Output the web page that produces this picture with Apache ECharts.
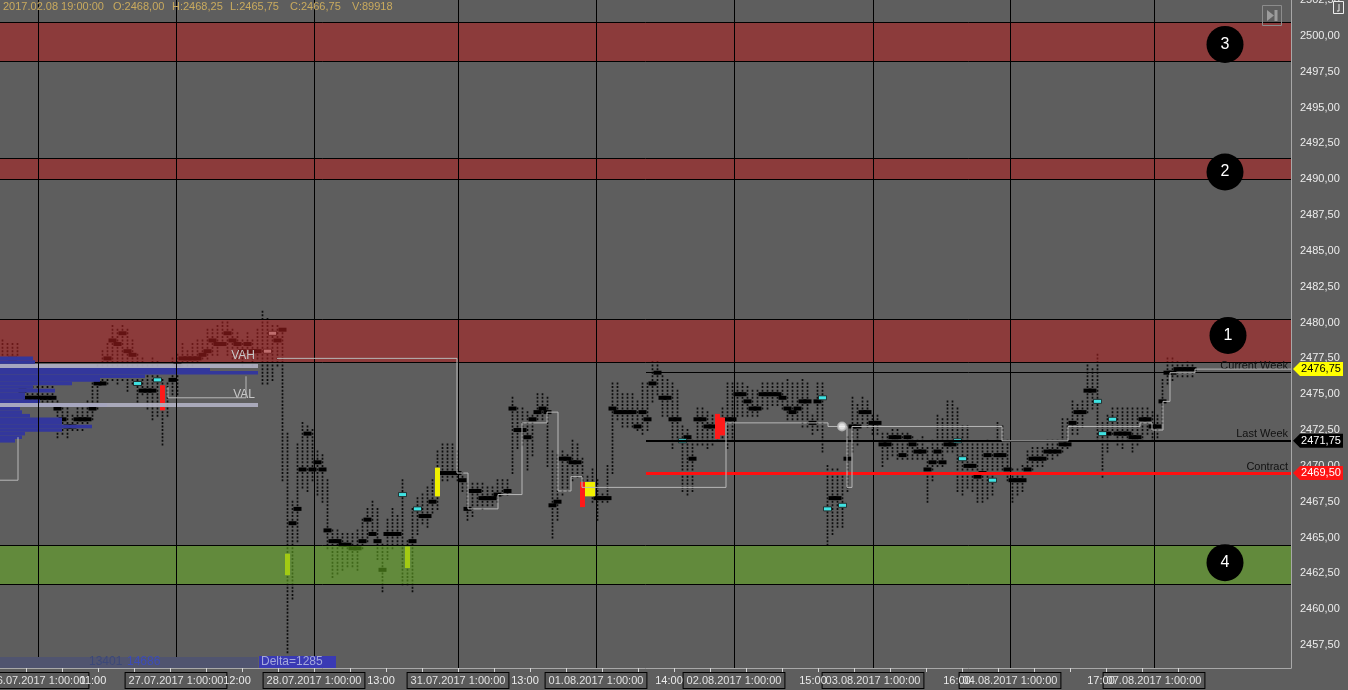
<!DOCTYPE html>
<html><head><meta charset="utf-8">
<script src="https://cdn.jsdelivr.net/npm/echarts@6/dist/echarts.min.js"></script>
<style>html,body{margin:0;padding:0;background:#5e5e5e;overflow:hidden}#c{width:1348px;height:690px}</style>
</head><body><div id="c"></div>
<script>
// ---------- data (prices, one column = one time slot) ----------
const barHigh = [
2478.75,2478.5,2478.5,2478.5,2476.25,2476,2476,2475.75,2476,2475.75,
2475.75,2474.5,2474.25,2474,2473.5,2474,2474.25,2474.5,2476,2477,
2478,2478.5,2479.75,2479.5,2479.75,2479.5,2478.75,2477.75,2477.5,2477,
2477.5,2477.25,2476,2475.75,2477.5,2477.75,2478.5,2478,2478.5,2478.75,
2478.75,2479.5,2479.5,2479.75,2480,2480,2479.5,2479.25,2478.75,2479.25,
2478.75,2479.5,2480.75,2480.25,2479.75,2479.75,2479.5,2472.25,2467.5,2471.5,
2473,2472.75,2472.5,2471,2470.75,2469,2465.5,2465.5,2465.25,2465.25,
2465.25,2465.5,2466.25,2467,2467.5,2467,2464.5,2466.25,2467,2466.5,
2469,2464.75,2467,2467.75,2468,2468.5,2469,2471,2471.5,2471.5,
2471.5,2471,2469.5,2468.75,2468.75,2468.75,2468.75,2468.5,2468.5,2469,
2469,2469,2474.75,2474,2474,2473.75,2473.5,2475,2475,2474.75,
2471,2470.75,2471,2470.75,2471.75,2471.5,2470.5,2469.25,2469.75,2469,
2468,2470,2475.75,2475.75,2475,2475,2475,2474.5,2475.75,2475.75,
2477.25,2477.25,2476.25,2476,2475.75,2475.25,2472.75,2472.5,2471.75,2474,
2474,2473.75,2473.5,2473.5,2474,2475.75,2475.75,2475.75,2475.75,2475.5,
2475.25,2475.25,2475.75,2475.75,2475.75,2475.75,2475.75,2476,2475.75,2475.75,
2476,2475.75,2473.5,2475.75,2475.75,2470,2469.75,2469.75,2469.25,2472,
2474.75,2474.25,2474.75,2474.5,2473.5,2473.5,2472.25,2472.25,2472.5,2472.5,
2472.25,2472.25,2472,2471.75,2472,2471.25,2471.75,2473.5,2473.25,2474.5,
2474.5,2474,2472.75,2472.75,2471.5,2471.5,2471.5,2471.75,2471.5,2473,
2472.75,2471.75,2469.75,2469.75,2470,2471,2471.25,2471.25,2471.25,2471.75,
2471.75,2471.75,2473.25,2473.25,2474.5,2474.25,2474.5,2477,2476.75,2477.75,
2473,2473.5,2474,2474,2474,2474,2474,2474,2474,2474,
2473.75,2473.5,2476,2477.5,2477.5,2477.25,2477,2477.25,2477];
const barLow = [
2477.5,2477.5,2477.5,2477,2474.5,2474.25,2474.5,2474.5,2474.5,2474.5,
2474.25,2472,2472.25,2472,2472.5,2472.5,2472.5,2472.75,2473.25,2474,
2475.75,2475.75,2476,2475.75,2476,2475.25,2475.75,2474.5,2475,2474,
2473.25,2473.5,2471.5,2473.5,2475,2475,2476.75,2477,2477,2477.25,
2477.5,2477.5,2477.75,2477.75,2478.5,2477.75,2477.5,2477.5,2477,2477.75,
2477,2477.5,2475.75,2475.75,2476,2477,2469,2457,2460.75,2464.75,
2468.5,2468.25,2469,2468,2467.5,2464.25,2462.25,2462.5,2462.75,2463,
2463,2462.75,2464.25,2464.75,2465.25,2463.5,2461.25,2463.5,2464.25,2464.5,
2461.75,2461.75,2461.25,2465.25,2466,2465.75,2466.75,2467,2469,2469,
2469.25,2469,2468.25,2466.25,2466.5,2467.25,2467,2467.25,2467.25,2467.5,
2468,2468,2469.5,2471.25,2471.5,2469.75,2470.75,2473.25,2473.25,2470,
2465,2466.25,2468,2468.25,2469,2469.25,2467.25,2468,2467.5,2466.25,
2467.5,2467.5,2469.5,2473.25,2472.75,2472.75,2472.75,2472.5,2472.25,2472.5,
2474.5,2475,2473.5,2473.5,2471.25,2471.75,2468.25,2468,2468.25,2471.5,
2471.5,2471.25,2471.5,2471.75,2472,2471.25,2471.75,2473.5,2473.5,2473.5,
2473.5,2473.5,2474,2474,2474.25,2474.25,2474,2473.25,2473.25,2473.25,
2472.75,2472.75,2472.25,2472.5,2471,2464.5,2465.25,2465.75,2465.75,2468.25,
2471,2471.5,2473,2472.75,2472.25,2472.25,2470,2470.5,2470.75,2470.5,
2470.5,2470.5,2470.5,2470.5,2470.5,2467.5,2469,2470,2470,2471,
2471,2468.25,2468,2468.5,2468.25,2467.5,2467.5,2467.75,2468,2469.5,
2469.75,2469,2467.5,2468,2468.25,2469.5,2469.75,2470,2470,2470.5,
2470.5,2470.75,2471,2471.25,2472.25,2472.25,2472.75,2473.75,2474,2471.75,
2469.25,2471,2472.25,2471.5,2471.25,2471.75,2471,2471.5,2471.75,2472.25,
2471.75,2472,2473,2475.75,2476,2476.25,2476.25,2476.25,2476.25];
const barPoc = [
null,null,null,null,2475.25,2474.75,2474.75,2474.75,2474.75,2474.75,
2474.75,2474,2473.25,2472.75,2472.75,2473.25,2473.25,2473.25,2474,2475.75,
2475.75,2477.5,2478.75,2478.5,2479.25,2478,2477.75,2475.75,2475.25,2475.25,
2475.25,null,null,null,2476,2477,2477.5,2477.5,2477.5,2477.5,
2477.75,2478,2478.75,2478.5,2478.5,2479.25,2478.75,2478.5,2478,2478.5,
2478,2478,null,null,null,2478.75,2479.5,null,2466,2467,
2469.75,2472.25,2469.75,2470.25,2469.75,2465.5,2464.75,2464.75,2464.5,2464.5,
2464.25,2464.25,2464.75,2466.25,2465.25,2464.75,2462.75,2465.25,2465.25,2465.25,
null,null,2464.75,null,2466.5,2466.5,2467.5,null,2469.5,2469.5,
2469.5,2469.5,2469,2467,2468.25,2468.25,2467.75,2467.75,2467.75,2468,
null,2468.25,2474,2472.5,2472.5,2472,2473.25,2473.75,2474,2473.75,
2467.25,2467.5,2470.5,2470.5,2470.25,2470.25,null,null,null,2467.75,
2467.75,2467.75,2474,2473.75,2473.75,2473.75,2473.75,2472.75,2473.75,2473.25,
2475.75,2476.5,2474.75,2474.75,2473.25,2473.25,null,2472,2470.5,2473.25,
2473.25,2472.75,2472.75,null,null,2473.25,2473.25,2475,2475,2474.5,
2474,2474,2475,2475,2475,2475,2474.75,2474,2473.75,2474,
2474.5,2474.5,2473,2474.5,null,null,2467.75,2467.75,null,2470.5,
2472.75,2472.75,2473.75,2473.75,2473,2473,2471.5,2471.5,2472,2472,
2470.75,2472,2471.5,2471,2471,2469.75,2470.25,2471,2470.25,2471.5,
2471.5,null,null,2470,2470,2469.25,2469.5,2470.75,null,2470.75,
2470.75,2469.75,2469,2469,2469,2469.75,2470.5,2470.5,2470.5,2471,
2471,2471,2471.5,2471.5,2473,2473.75,2473.75,2475.25,2475.25,null,
null,2472.25,null,2472.25,2472.25,2472.25,2472,2472,2473.25,2473.25,
2472.75,2472.75,2474.5,2476.5,2476.5,2476.75,2476.75,2476.75,2476.75];
const cyanCells = [[27,2475.75],[31,2476],[80,2468],[83,2467],[136,2471.75],[164,2474.75],[165,2467],[168,2467.25],[191,2471.75],[192,2470.5],[198,2469],[219,2474.5],[220,2472.25],[222,2473.25]];
const greyCells = [[2,2477.5],[53,2478],[54,2479.25]];
const yellowCells = [[57,2462.5,2463.75],[81,2463,2464.25],[87,2468,2469.75],[117,2468,2468.75],[118,2468,2468.75]];
const redCells = [[32,2474,2475.5],[116,2467.25,2468.75],[143,2472,2473.5],[144,2472.25,2473.25]];

const profilePrice  = [2477.5,2477.25,2477,2476.75,2476.5,2476.25,2476,2475.75,2475.5,2475.25,2475,2474.75,2474.5,2474.25,2474,2473.75,2473.5,2473.25,2473,2472.75,2472.5,2472.25,2472,2471.75];
const profileVolume = [330,350,350,2100,2580,1450,1000,720,330,550,250,250,400,1070,200,220,300,620,620,920,620,250,220,150];
const valueAreaLevels = [2477, 2474.25];
const valueAreaNames = ['VAH','VAL'];
const valueAreaVolume = 2580;

const zoneTop    = [2501, 2491.5, 2480.25, 2464.5];
const zoneBottom = [2498.25, 2490, 2477.25, 2461.75];
const zoneKind   = ['sell','sell','sell','buy'];
const zoneNumbers = ['3','2','1','4'];
const zoneMarkerSlot = [245, 245, 245.6, 245];
const zoneMarkerPrice = [2499.4, 2490.5, 2479.1, 2463.25];

const devLineMain = [[55.4,2477.5],[91.4,2477.5],[91.4,2469.5],[93.6,2469.5],[93.6,2467],[99.6,2467],[99.6,2468],[104.4,2468],[104.4,2473],[109.4,2473],[109.4,2473.75],[111.6,2473.75],[111.6,2468.25],[114.2,2468.25],[114.2,2469.25],[116.4,2469.25],[116.4,2468.5],[145.2,2468.5],[145.2,2473],[165.6,2473],[165.6,2472.75],[169.4,2472.75],[169.4,2468.5],[170.4,2468.5],[170.4,2472.75],[200.4,2472.75],[200.4,2471.75],[213.6,2471.75],[213.6,2472.75],[228,2472.75],[228,2473],[230.4,2473],[230.4,2472.5],[232.6,2472.5],[232.6,2474.5],[234,2474.5],[234,2476.5],[239,2476.5],[239,2476.75],[258.2,2476.75]];
const devLineLeft = [[0,2469],[3.6,2469],[3.6,2472]];
const devLineBox = [[33.6,2475.5],[33.6,2474.75],[49.2,2474.75],[49.2,2476.25]];
const devMarker = [[168.4,2472.75]];

const levelNames = ['Current Week','Last Week','Contract'];
const levelStartSlot = 129.2;
const levelLinePrice = [2476.5, 2471.75, 2469.5];
const levelTagPrice = [2476.75, 2471.75, 2469.5];

const daySeparators = [7.6, 35.2, 62.8, 91.6, 119.2, 146.8, 174.6, 202, 230.8];
const dayLabels = ['26.07.2017 1:00:00','27.07.2017 1:00:00','28.07.2017 1:00:00','31.07.2017 1:00:00','01.08.2017 1:00:00','02.08.2017 1:00:00','03.08.2017 1:00:00','04.08.2017 1:00:00','07.08.2017 1:00:00'];
const hourTickSlots = [5.2,12.4,19.6,26.8,34,41.2,48.4,55.6,62.8,70,77.2,84.4,91.6,98.8,106,113.2,120.4,127.6,134.8,142,149.2,156.4,163.6,170.8,178,185.2,192.4,199.6,206.8,214,221.2,228.4,235.6];
const hourLabelSlots = [18.6,47.4,76.2,105,133.8,162.6,191.4,220.2];
const hourLabels = ['11:00','12:00','13:00','13:00','14:00','15:00','16:00','17:00'];
const priceTicks = [2457.5,2460,2462.5,2465,2467.5,2470,2472.5,2475,2477.5,2480,2482.5,2485,2487.5,2490,2492.5,2495,2497.5,2500,2502.5];

const headerFields = ['2017.02.08 19:00:00','O:2468,00','H:2468,25','L:2465,75','C:2466,75','V:89918'];
const footerVolumes = ['13401','14686'];
const footerDelta = 'Delta=1285';

// ---------- chart ----------
const FONT = '"Liberation Sans", Arial, sans-serif';
const fmtPrice = v => v.toFixed(2).replace('.', ',');
const nearest = (arr, v) => { let b = 0; arr.forEach((a, i) => { if (Math.abs(a - v) < Math.abs(arr[b] - v)) b = i; }); return b; };
const X_MAX = 258.2;

const chart = echarts.init(document.getElementById('c'), null, {renderer: 'canvas'});

function renderBar(params, api) {
  const i = api.value(0);
  const step = api.size([0, 0.25])[1];
  const p1 = api.coord([i + 0.5, api.value(1)]);
  const p2 = api.coord([i + 0.5, api.value(2)]);
  const children = [{
    type: 'line',
    shape: {x1: p1[0], y1: p1[1] - step / 2 + 0.8, x2: p2[0], y2: p2[1] + step / 2},
    style: {stroke: '#0c0c0c', lineWidth: 1.7, lineDash: [2, step - 2]}
  }];
  const poc = barPoc[i];
  if (poc != null) {
    const c = api.coord([i + 0.5, poc]);
    children.push({type: 'rect', shape: {x: c[0] - 4, y: c[1] - 2, width: 8, height: 4}, style: {fill: '#000'}});
  }
  return {type: 'group', children};
}
function renderCell(fill, stroke) {
  return function (params, api) {
    const c = api.coord([api.value(0) + 0.5, api.value(1)]);
    return {type: 'rect', shape: {x: c[0] - 4, y: c[1] - 2, width: 8, height: 4}, style: {fill, stroke, lineWidth: 0.8}};
  };
}
function renderRange(fill, w) {
  return function (params, api) {
    const a = api.coord([api.value(0) + 0.5, api.value(2) + 0.125]);
    const b = api.coord([api.value(0) + 0.5, api.value(1) - 0.125]);
    return {type: 'rect', shape: {x: a[0] - w / 2, y: a[1], width: w, height: b[1] - a[1]}, style: {fill}};
  };
}
function renderProfile(params, api) {
  const a = api.coord([0, api.value(1) + 0.125]);
  const b = api.coord([api.value(0), api.value(1) - 0.125]);
  return {type: 'rect', shape: {x: a[0], y: a[1], width: b[0] - a[0], height: b[1] - a[1]}, style: {fill: '#33379c'}};
}
const zoneColor = {sell: 'rgba(176,34,34,0.57)', buy: 'rgba(102,172,35,0.57)'};
function renderZone(params, api) {
  const i = api.value(0);
  const a = api.coord([0, api.value(1)]);
  const b = api.coord([X_MAX, api.value(2)]);
  const yt = Math.round(a[1]) + 0.5, yb = Math.round(b[1]) + 0.5;
  return {type: 'group', children: [
    {type: 'rect', shape: {x: a[0], y: yt, width: b[0] - a[0], height: yb - yt}, style: {fill: zoneColor[zoneKind[i]]}},
    {type: 'line', shape: {x1: a[0], y1: yt, x2: b[0], y2: yt}, style: {stroke: '#000', lineWidth: 1}},
    {type: 'line', shape: {x1: a[0], y1: yb, x2: b[0], y2: yb}, style: {stroke: '#000', lineWidth: 1}}
  ]};
}

const levelColors = ['#000000', '#000000', '#ff1010'];
const levelWidths = [1, 2, 3];
const tagColors = ['#ffff00', '#000000', '#ff1414'];
const tagText = ['#000000', '#ffffff', '#ffffff'];
const headerX = [3, 113, 172, 230, 290, 352];

const option = {
  backgroundColor: '#5e5e5e',
  animation: false,
  textStyle: {fontFamily: FONT},
  grid: {left: 0, top: 0, width: 1291, height: 668, containLabel: false, outerBoundsMode: 'none'},
  xAxis: [
    {type: 'value', min: 0, max: X_MAX, position: 'bottom', z: 3, splitLine: {show: false},
     axisLine: {show: true, onZero: false, lineStyle: {color: '#a8a8a8', width: 1}},
     axisTick: {show: true, customValues: hourTickSlots, length: 4, lineStyle: {color: '#d8d8d8'}},
     axisLabel: {customValues: hourLabelSlots, formatter: v => hourLabels[nearest(hourLabelSlots, v)], color: '#ececec', fontSize: 11, fontFamily: FONT, margin: 7}},
    {type: 'value', min: 0, max: 12910, show: false, position: 'top'},
    {type: 'value', min: 0, max: X_MAX, position: 'bottom', z: 1, splitLine: {show: false},
     axisLine: {show: false}, axisTick: {show: false},
     axisLabel: {customValues: daySeparators, formatter: v => dayLabels[nearest(daySeparators, v)],
       color: '#e2e2e2', fontSize: 11, fontFamily: FONT, margin: 5, backgroundColor: '#5a5a5a',
       borderColor: '#000', borderWidth: 1, padding: [2, 3, 1, 3], lineHeight: 12}}
  ],
  yAxis: [{type: 'value', position: 'right', min: 2455.9, max: 2502.5, splitLine: {show: false},
    axisLine: {show: true, onZero: false, lineStyle: {color: '#a8a8a8'}}, axisTick: {show: false},
    axisLabel: {customValues: priceTicks, formatter: v => fmtPrice(v), color: '#ececec', fontSize: 11, fontFamily: FONT, margin: 9}}],
  series: [
    {type: 'custom', name: 'bars', z: 2, renderItem: renderBar, data: barHigh.map((h, i) => [i, h, barLow[i]])},
    {type: 'custom', name: 'cyan', z: 2, renderItem: renderCell('#40e2e2', '#1a1a1a'), data: cyanCells},
    {type: 'custom', name: 'grey', z: 2, renderItem: renderCell('#d2d2d2', '#111'), data: greyCells},
    {type: 'custom', name: 'yellow', z: 2, renderItem: renderRange('#f0f000', 5), data: yellowCells},
    {type: 'custom', name: 'red', z: 2, renderItem: renderRange('#ff1a1a', 5), data: redCells},
    {type: 'custom', name: 'zones', z: 3, silent: true, renderItem: renderZone, data: zoneTop.map((t, i) => [i, t, zoneBottom[i]])},
    {type: 'custom', name: 'profile', xAxisIndex: 1, z: 4, renderItem: renderProfile,
     data: profilePrice.map((p, i) => [profileVolume[i], p]),
     markLine: {silent: true, symbol: ['none', 'none'], animation: false,
       lineStyle: {color: 'rgba(176,176,194,0.92)', width: 4, type: 'solid'},
       label: {show: true, position: 'insideEndTop', color: '#c8c8c8', fontSize: 12, fontFamily: FONT, distance: [3, 4]},
       data: valueAreaLevels.map((p, i) => [{coord: [0, p], name: valueAreaNames[i], label: {formatter: valueAreaNames[i]}}, {coord: [valueAreaVolume, p]}])}},
    {type: 'line', name: 'separators', z: 4, data: [], silent: true,
     markLine: {silent: true, symbol: ['none', 'none'], animation: false, label: {show: false},
       lineStyle: {color: '#000', width: 1, type: 'solid'}, data: daySeparators.map(x => ({xAxis: x}))}},
    {type: 'line', name: 'dev', z: 5, data: devLineMain, showSymbol: false, silent: true, lineStyle: {color: '#b8b8b8', width: 1}},
    {type: 'line', name: 'devLeft', z: 5, data: devLineLeft, showSymbol: false, silent: true, lineStyle: {color: '#b8b8b8', width: 1}},
    {type: 'line', name: 'devBox', z: 5, data: devLineBox, showSymbol: false, silent: true, lineStyle: {color: '#b8b8b8', width: 1}},
    {type: 'scatter', name: 'devMark', z: 5, data: devMarker, symbol: 'emptyCircle', symbolSize: 8, silent: true, itemStyle: {color: '#b8b8b8', borderWidth: 1.2}},
    {type: 'line', name: 'levels', z: 6, data: [], silent: true,
     markLine: {silent: true, symbol: ['none', 'none'], animation: false,
       data: levelNames.map((n, i) => [
         {coord: [levelStartSlot, levelLinePrice[i]], lineStyle: {color: levelColors[i], width: levelWidths[i], type: 'solid'},
          label: {show: true, position: 'insideEndTop', formatter: n, color: '#111', fontSize: 11, fontFamily: FONT, distance: [3, 1]}},
         {coord: [X_MAX, levelLinePrice[i]]}])},
     markPoint: {silent: true, animation: false,
       data: levelTagPrice.map((p, i) => ({coord: [X_MAX, p], symbol: 'path://M0,7L7,0L50,0L50,14L7,14Z', symbolSize: [50, 14], symbolOffset: [27, 0],
         itemStyle: {color: tagColors[i]}, label: {show: true, formatter: fmtPrice(p), color: tagText[i], fontSize: 11, fontFamily: FONT, offset: [3, 0]}}))}},
    {type: 'scatter', name: 'zoneNumbers', z: 7, silent: true, symbolSize: 37,
     data: zoneNumbers.map((t, i) => [zoneMarkerSlot[i], zoneMarkerPrice[i], t]),
     itemStyle: {color: '#000', opacity: 1},
     label: {show: true, position: 'inside', formatter: p => p.value[2], color: '#fff', fontSize: 16, fontFamily: FONT}}
  ],
  graphic: [
    ...headerFields.map((t, i) => ({type: 'text', x: headerX[i], y: 1, z: 100, style: {text: t, fill: '#c9aa5e', font: '11px ' + FONT}})),
    {type: 'rect', z: 100, shape: {x: 0, y: 657, width: 258, height: 11}, style: {fill: '#50546f'}},
    {type: 'text', z: 101, x: 89, y: 656, style: {text: footerVolumes[0], fill: '#3c4878', font: '12px ' + FONT}},
    {type: 'text', z: 101, x: 127, y: 656, style: {text: footerVolumes[1], fill: '#3c4cb8', font: '12px ' + FONT}},
    {type: 'rect', z: 100, shape: {x: 259, y: 656, width: 77, height: 12}, style: {fill: '#3a3ab4'}},
    {type: 'text', z: 101, x: 261, y: 656, style: {text: footerDelta, fill: '#a4a8dc', font: '12px ' + FONT}},
    {type: 'rect', z: 100, shape: {x: 1262.5, y: 5.5, width: 19, height: 20}, style: {fill: 'none', stroke: '#8c8c8c', lineWidth: 1}},
    {type: 'polygon', z: 100, shape: {points: [[1267, 10], [1267, 21], [1274, 15.5]]}, style: {fill: '#9c9c9c'}},
    {type: 'rect', z: 100, shape: {x: 1274.5, y: 10, width: 3, height: 11}, style: {fill: '#9c9c9c'}},
    {type: 'rect', z: 100, shape: {x: 1333.5, y: 1.5, width: 10, height: 12}, style: {fill: '#5e5e5e', stroke: '#eeeeee', lineWidth: 1}},
    {type: 'polyline', z: 101, shape: {points: [[1339, 4], [1339, 11], [1337, 11]]}, style: {stroke: '#eeeeee', lineWidth: 1, fill: 'none'}}
  ]
};
chart.setOption(option);
</script>
</body></html>
